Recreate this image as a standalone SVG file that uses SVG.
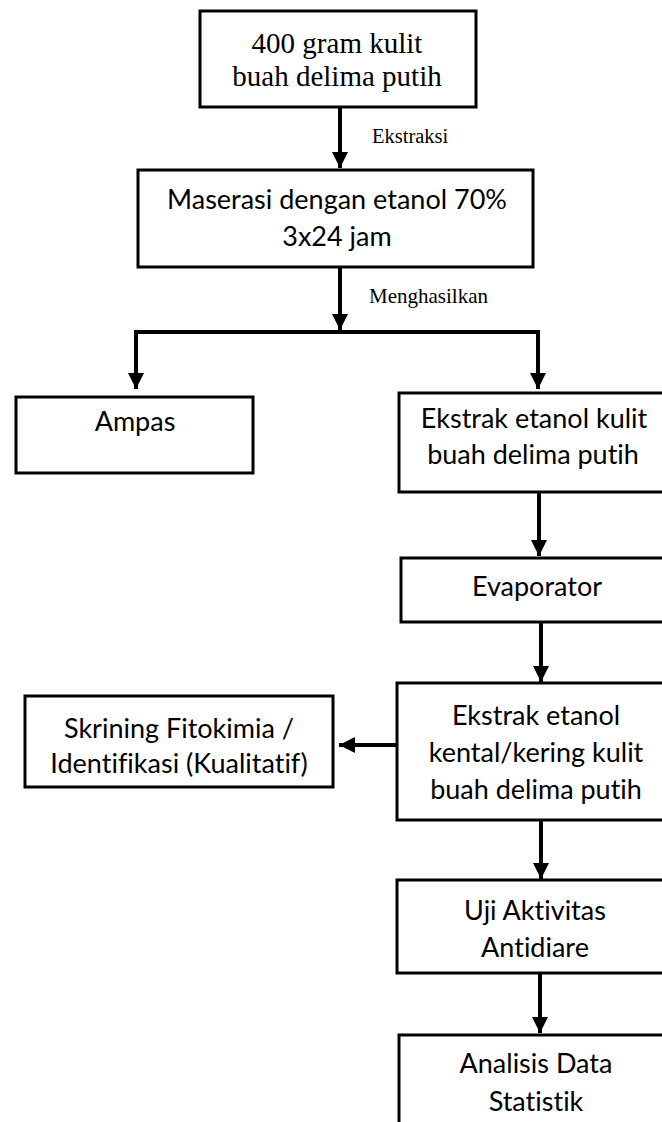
<svg xmlns="http://www.w3.org/2000/svg" width="662" height="1122" viewBox="0 0 662 1122">
<style>
.box{fill:#fff;stroke:#000;stroke-width:3}
.serif{font-family:"Liberation Serif","Times New Roman",serif;fill:#000}
.sans{font-family:Lato,"Liberation Sans",sans-serif;font-size:27px;fill:#000;text-anchor:middle;font-variant-ligatures:none;font-feature-settings:"liga" 0}
.conn{fill:none;stroke:#000;stroke-width:4}
</style>
<defs>
<marker id="ah" markerUnits="userSpaceOnUse" markerWidth="16" markerHeight="16" refX="15" refY="7.5" orient="auto" viewBox="0 0 15 15">
<path d="M0,0 L15,7.5 L0,15 z" fill="#000"/>
</marker>
</defs>
<rect width="662" height="1122" fill="#fff"/>
<g id="connectors">
<line class="conn" x1="340" y1="107" x2="340" y2="168" marker-end="url(#ah)"/>
<text class="serif" x="372" y="143" font-size="20.5">Ekstraksi</text>
<line class="conn" x1="340" y1="267" x2="340" y2="330" marker-end="url(#ah)"/>
<text class="serif" x="369" y="303" font-size="21">Menghasilkan</text>
<polyline class="conn" points="340,332 136,332 136,389" marker-end="url(#ah)"/>
<polyline class="conn" points="340,332 538,332 538,389" marker-end="url(#ah)"/>
<line class="conn" x1="539" y1="492" x2="539" y2="556" marker-end="url(#ah)"/>
<line class="conn" x1="541" y1="622" x2="541" y2="682" marker-end="url(#ah)"/>
<line class="conn" x1="397" y1="745" x2="339" y2="745" marker-end="url(#ah)"/>
<line class="conn" x1="541" y1="820" x2="541" y2="879" marker-end="url(#ah)"/>
<line class="conn" x1="540" y1="973" x2="540" y2="1033" marker-end="url(#ah)"/>
</g>
<g id="n1">
<rect class="box" x="200" y="11" width="276" height="96"/>
<text class="serif" x="337" y="53" font-size="29" text-anchor="middle">400 gram kulit</text>
<text class="serif" x="337" y="86" font-size="29" text-anchor="middle">buah delima putih</text>
</g>
<g id="n2">
<rect class="box" x="138" y="170" width="395" height="97"/>
<text class="sans" x="337" y="209">Maserasi dengan etanol 70%</text>
<text class="sans" x="337" y="246">3x24 jam</text>
</g>
<g id="n3">
<rect class="box" x="16" y="397" width="237" height="76"/>
<text class="sans" x="135" y="431">Ampas</text>
</g>
<g id="n4">
<rect class="box" x="399" y="393" width="290" height="99"/>
<text class="sans" x="534" y="428">Ekstrak etanol kulit</text>
<text class="sans" x="533" y="464">buah delima putih</text>
</g>
<g id="n5">
<rect class="box" x="401" y="558" width="290" height="64"/>
<text class="sans" x="537" y="596">Evaporator</text>
</g>
<g id="n6">
<rect class="box" x="397" y="683" width="290" height="137"/>
<text class="sans" x="536" y="725">Ekstrak etanol</text>
<text class="sans" x="536" y="762">kental/kering kulit</text>
<text class="sans" x="536" y="799">buah delima putih</text>
</g>
<g id="n7">
<rect class="box" x="25" y="696" width="308" height="91"/>
<text class="sans" x="179" y="738">Skrining Fitokimia /</text>
<text class="sans" x="179" y="773">Identifikasi (Kualitatif)</text>
</g>
<g id="n8">
<rect class="box" x="397" y="880" width="290" height="93"/>
<text class="sans" x="535" y="920">Uji Aktivitas</text>
<text class="sans" x="535" y="957">Antidiare</text>
</g>
<g id="n9">
<rect class="box" x="399" y="1035" width="290" height="120"/>
<text class="sans" x="536" y="1073">Analisis Data</text>
<text class="sans" x="536" y="1111">Statistik</text>
</g>
</svg>
